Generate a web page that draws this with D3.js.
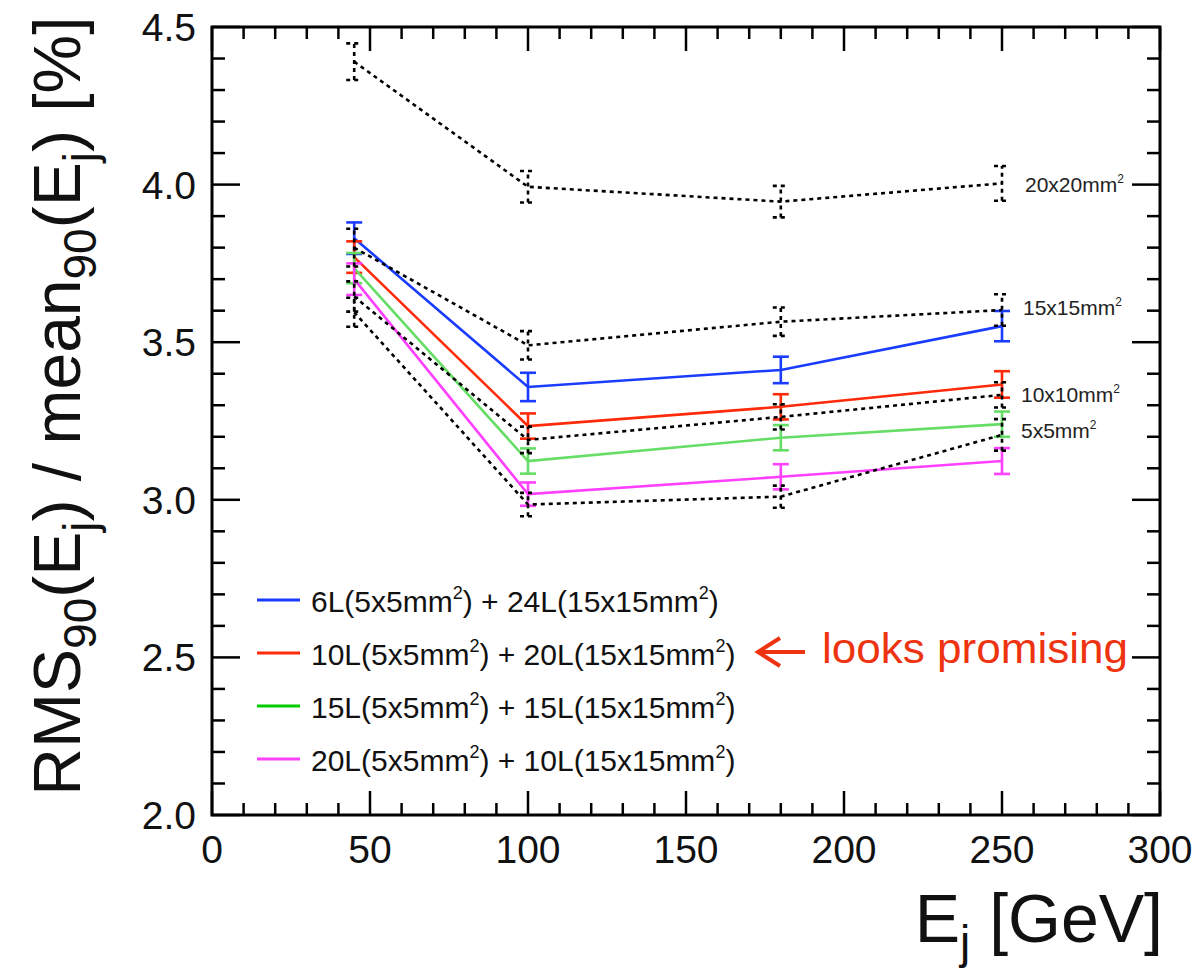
<!DOCTYPE html>
<html>
<head>
<meta charset="utf-8">
<script src="https://cdn.jsdelivr.net/npm/d3@7"></script>
<style>
  html, body { margin: 0; padding: 0; background: #fff; }
  svg { display: block; }
  text { font-family: "Liberation Sans", Arial, Helvetica, sans-serif; }
</style>
</head>
<body>
<svg id="chart" width="1198" height="970"></svg>
<script>
// ---------------- data ----------------
const energies = [45, 100, 180, 250];

const seriesNames = [
  ["6L(5x5mm", ") + 24L(15x15mm", ")"],
  ["10L(5x5mm", ") + 20L(15x15mm", ")"],
  ["15L(5x5mm", ") + 15L(15x15mm", ")"],
  ["20L(5x5mm", ") + 10L(15x15mm", ")"]
];
const seriesColors = ["#1a3cff", "#ff2a0a", "#66dd66", "#ff40ff"];
const legendColors = ["#1a3cff", "#ff2a0a", "#00cc00", "#ff40ff"];

const blueVals = [3.83, 3.358, 3.412, 3.551];
const blueErrs = [0.05, 0.045, 0.042, 0.048];
const redVals = [3.77, 3.234, 3.295, 3.366];
const redErrs = [0.05, 0.04, 0.04, 0.042];
const greenVals = [3.735, 3.123, 3.197, 3.240];
const greenErrs = [0.048, 0.04, 0.04, 0.04];
const magentaVals = [3.70, 3.018, 3.073, 3.123];
const magentaErrs = [0.05, 0.037, 0.04, 0.041];

const cellLabels = ["20x20mm", "15x15mm", "10x10mm", "5x5mm"];
const cell20Vals = [4.39, 3.993, 3.946, 4.004];
const cell20Errs = [0.058, 0.05, 0.05, 0.055];
const cell15Vals = [3.80, 3.49, 3.565, 3.602];
const cell15Errs = [0.06, 0.045, 0.045, 0.05];
const cell10Vals = [3.645, 3.19, 3.263, 3.333];
const cell10Errs = [0.048, 0.042, 0.04, 0.04];
const cell5Vals = [3.595, 2.985, 3.01, 3.206];
const cell5Errs = [0.046, 0.037, 0.035, 0.05];

const xTicks = [0, 50, 100, 150, 200, 250, 300];
const yTicks = [2.0, 2.5, 3.0, 3.5, 4.0, 4.5];

// ---------------- layout ----------------
const svg = d3.select("#chart");
const L = 212, R = 1160, T = 27, B = 815;
const x = d3.scaleLinear().domain([0, 300]).range([L, R]);
const y = d3.scaleLinear().domain([2.0, 4.5]).range([B, T]);

const colored = [
  {v: blueVals, e: blueErrs},
  {v: redVals, e: redErrs},
  {v: greenVals, e: greenErrs},
  {v: magentaVals, e: magentaErrs}
];
const cells = [
  {v: cell20Vals, e: cell20Errs, baseline: 192, x0: 1025},
  {v: cell15Vals, e: cell15Errs, baseline: 315, x0: 1023},
  {v: cell10Vals, e: cell10Errs, baseline: 402, x0: 1021},
  {v: cell5Vals, e: cell5Errs, baseline: 438, x0: 1021}
];

const line = d3.line().x(d => x(d[0])).y(d => y(d[1]));
const capW = 8;

function drawSeries(s, color, dash, width) {
  const pts = energies.map((en, i) => [en, s.v[i], s.e[i]]);
  const g = svg.append("g");
  g.append("path").datum(pts).attr("d", line)
    .attr("fill", "none").attr("stroke", color).attr("stroke-width", width)
    .attr("stroke-dasharray", dash);
  pts.forEach(p => {
    const cx = x(p[0]);
    g.append("line").attr("x1", cx).attr("x2", cx)
      .attr("y1", y(p[1] - p[2])).attr("y2", y(p[1] + p[2]))
      .attr("stroke", color).attr("stroke-width", width).attr("stroke-dasharray", dash);
    [p[1] - p[2], p[1] + p[2]].forEach(v => {
      g.append("line").attr("x1", cx - capW).attr("x2", cx + capW)
        .attr("y1", y(v)).attr("y2", y(v))
        .attr("stroke", color).attr("stroke-width", width).attr("stroke-dasharray", dash);
    });
  });
}

colored.forEach((s, i) => drawSeries(s, seriesColors[i], null, 2.6));
cells.forEach(s => drawSeries(s, "#000", "4,4", 2.6));

// cell labels
cells.forEach((s, i) => {
  const t = svg.append("text").attr("x", s.x0).attr("y", s.baseline)
    .attr("font-size", 21).attr("fill", "#222");
  t.append("tspan").text(cellLabels[i]);
  t.append("tspan").attr("font-size", 12).attr("dy", -9).text("2");
});

// ---------------- frame & ticks ----------------
const axG = svg.append("g").attr("stroke", "#000");
axG.append("rect").attr("x", L).attr("y", T).attr("width", R - L).attr("height", B - T)
  .attr("fill", "none").attr("stroke-width", 3);

d3.range(0, 301, 10).forEach(v => {
  const major = v % 50 === 0;
  const len = major ? 24 : 12;
  axG.append("line").attr("x1", x(v)).attr("x2", x(v)).attr("y1", B).attr("y2", B - len).attr("stroke-width", 2.5);
  axG.append("line").attr("x1", x(v)).attr("x2", x(v)).attr("y1", T).attr("y2", T + len).attr("stroke-width", 2.5);
});
d3.range(20, 46, 1).forEach(k => {
  const v = k / 10;
  const major = k % 5 === 0;
  const len = major ? 28 : 13;
  axG.append("line").attr("x1", L).attr("x2", L + len).attr("y1", y(v)).attr("y2", y(v)).attr("stroke-width", 2.5);
  axG.append("line").attr("x1", R).attr("x2", R - len).attr("y1", y(v)).attr("y2", y(v)).attr("stroke-width", 2.5);
});

// tick labels
svg.append("g").selectAll("text").data(xTicks).join("text")
  .attr("x", d => x(d)).attr("y", 863).attr("text-anchor", "middle")
  .attr("font-size", 39).attr("fill", "#111").text(d => d3.format("d")(d));
svg.append("g").selectAll("text").data(yTicks).join("text")
  .attr("x", 196).attr("y", d => y(d)).attr("dy", "0.36em").attr("text-anchor", "end")
  .attr("font-size", 39).attr("fill", "#111").text(d => d3.format(".1f")(d));

// axis titles
const xt = svg.append("text").attr("x", 1163).attr("y", 942).attr("text-anchor", "end")
  .attr("font-size", 68).attr("fill", "#111");
xt.append("tspan").text("E");
xt.append("tspan").attr("font-size", 46).attr("dy", 16).text("j");
xt.append("tspan").attr("dy", -16).text(" [GeV]");

const yt = svg.append("text").attr("transform", "translate(80,406) rotate(-90)")
  .attr("text-anchor", "middle").attr("font-size", 66).attr("fill", "#111");
yt.append("tspan").text("RMS");
yt.append("tspan").attr("font-size", 46).attr("dy", 16).text("90");
yt.append("tspan").attr("dy", -16).text("(E");
yt.append("tspan").attr("font-size", 46).attr("dy", 16).text("j");
yt.append("tspan").attr("dy", -16).text(") / mean");
yt.append("tspan").attr("font-size", 46).attr("dy", 16).text("90");
yt.append("tspan").attr("dy", -16).text("(E");
yt.append("tspan").attr("font-size", 46).attr("dy", 16).text("j");
yt.append("tspan").attr("dy", -16).text(") [%]");

// ---------------- legend ----------------
const legY = [600, 653, 706, 759];
seriesNames.forEach((nm, i) => {
  svg.append("line").attr("x1", 257).attr("x2", 300).attr("y1", legY[i]).attr("y2", legY[i])
    .attr("stroke", legendColors[i]).attr("stroke-width", 3);
  const t = svg.append("text").attr("x", 311).attr("y", legY[i] + 12)
    .attr("font-size", 30).attr("fill", "#111");
  t.append("tspan").text(nm[0]);
  t.append("tspan").attr("font-size", 18).attr("dy", -13).text("2");
  t.append("tspan").attr("dy", 13).text(nm[1]);
  t.append("tspan").attr("font-size", 18).attr("dy", -13).text("2");
  t.append("tspan").attr("dy", 13).text(nm[2]);
});

// annotation
const red = "#ee3311";
svg.append("path").attr("d", "M805,652 L758,652 M780,638 L758,652 L780,666")
  .attr("fill", "none").attr("stroke", red).attr("stroke-width", 4);
svg.append("text").attr("x", 822).attr("y", 663).attr("font-family", "Lato, 'Open Sans', sans-serif")
  .attr("font-size", 42).attr("fill", red).attr("textLength", 306).attr("lengthAdjust", "spacingAndGlyphs")
  .text("looks promising");
</script>
</body>
</html>
